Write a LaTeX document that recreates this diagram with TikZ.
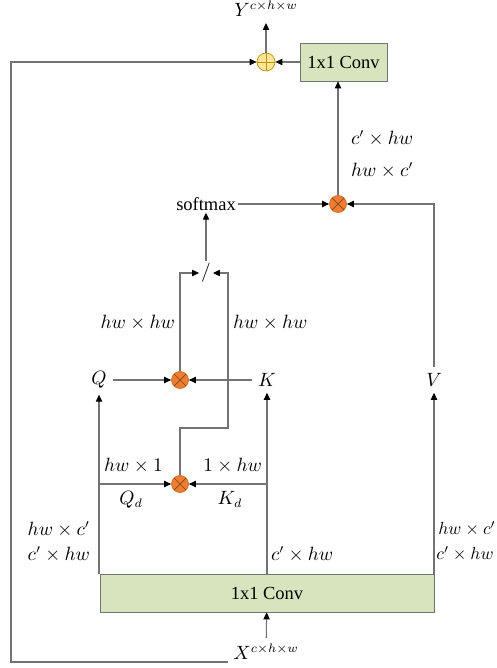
\documentclass[tikz,border=0pt]{standalone}
\usepackage{fontspec}
\setmainfont{Liberation Serif}
\usepackage{amsmath}
\usetikzlibrary{arrows.meta, positioning, calc}
\definecolor{convgreen}{RGB}{215,228,189}
\definecolor{mulorange}{RGB}{237,125,49}
\definecolor{addyellow}{RGB}{255,230,153}
\definecolor{addedge}{RGB}{191,144,0}
\definecolor{linegray}{RGB}{115,115,115}

\begin{document}
\begin{tikzpicture}[
  x=0.02cm, y=-0.02cm,
  font=\fontsize{10.5}{12}\selectfont,
  convbox/.style={draw=linegray, fill=convgreen, minimum height=0.76cm, inner sep=2pt},
  mulop/.style={circle, draw=mulorange!85!black, fill=mulorange, minimum size=0.34cm, inner sep=0pt,
    path picture={\draw[mulorange!55!black, thin]
      (path picture bounding box.north west) -- (path picture bounding box.south east)
      (path picture bounding box.north east) -- (path picture bounding box.south west);}},
  addop/.style={circle, draw=addedge, fill=addyellow, minimum size=0.36cm, inner sep=0pt,
    path picture={\draw[addedge, thin]
      (path picture bounding box.north) -- (path picture bounding box.south)
      (path picture bounding box.west) -- (path picture bounding box.east);}},
  arr/.style={-{Triangle[length=4pt,width=3.6pt,color=black]}, linegray, line width=0.6pt},
  dimlbl/.style={inner sep=1pt},
  edgelbl/.style={inner sep=0pt, font=\fontsize{9.6}{11}\selectfont}
]
\useasboundingbox (0,0) rectangle (496,668);

\node[addop] (plus) at (266,62) {};
\node[convbox, minimum width=1.74cm] (conv1) at (343.5,62) {1x1 Conv};
\node (ylab) at (266,9) {$Y^{c\times h\times w}$};
\node[mulop] (mulv) at (338,204) {};
\node[inner sep=1pt] (softmax) at (206,204) {softmax};
\node[inner sep=1pt] (div) at (206,273) {$/$};
\node[mulop] (mulqk) at (180,380) {};
\node (q) at (99,380) {$Q$};
\node (k) at (267,380) {$K$};
\node (v) at (434,380) {$V$};
\node[mulop] (muld) at (180,484) {};
\node[convbox, minimum width=6.68cm] (conv2) at (267,593) {1x1 Conv};
\node (xlab) at (266,652) {$X^{c\times h\times w}$};
\coordinate (jog) at (228,428);
\coordinate (fbend) at (228,662);
\coordinate (fbcorner) at (11,662);

\node[dimlbl, anchor=west] at (349,138) {$c^{\prime}\times hw$};
\node[dimlbl, anchor=west] at (349,170) {$hw\times c^{\prime}$};
\node[dimlbl, anchor=east] at (177,323) {$hw\times hw$};
\node[dimlbl, anchor=west] at (231,323) {$hw\times hw$};
\node[dimlbl, anchor=west] at (102,466) {$hw\times 1$};
\node[dimlbl, anchor=east] at (264,466) {$1\times hw$};
\node[dimlbl] at (131,500) {$Q_d$};
\node[dimlbl] at (230,499) {$K_d$};
\node[dimlbl, anchor=east] at (92,529) {$hw\times c^{\prime}$};
\node[dimlbl, anchor=east] at (92,554) {$c^{\prime}\times hw$};
\node[dimlbl, anchor=west] at (269,554) {$c^{\prime}\times hw$};
\node[edgelbl, anchor=west] at (438,529) {$hw\times c^{\prime}$};
\node[edgelbl, anchor=east] at (494,554) {$c^{\prime}\times hw$};

\draw[arr] (plus) -- (ylab);
\draw[arr] (conv1) -- (plus);
\draw[arr] (fbend) -- (fbcorner) |- (plus);
\draw[arr] (mulv) -- (mulv |- conv1.south);
\draw[arr] (softmax) -- (mulv);
\draw[arr] (v) |- (mulv);
\draw[arr] (div) -- (softmax);
\draw[arr] (mulqk) |- (div);
\draw[arr] (muld) |- (jog) |- (div);
\draw[arr] (q) -- (mulqk);
\draw[arr] (k) -- (mulqk);
\draw[arr] (conv2.north -| q) -- (q);
\draw[arr] (conv2.north -| k) -- (k);
\draw[arr] (conv2.north -| v) -- (v);
\draw[arr] (q |- muld) -- (muld);
\draw[arr] (k |- muld) -- (muld);
\draw[arr] (xlab) -- (conv2);
\end{tikzpicture}
\end{document}
